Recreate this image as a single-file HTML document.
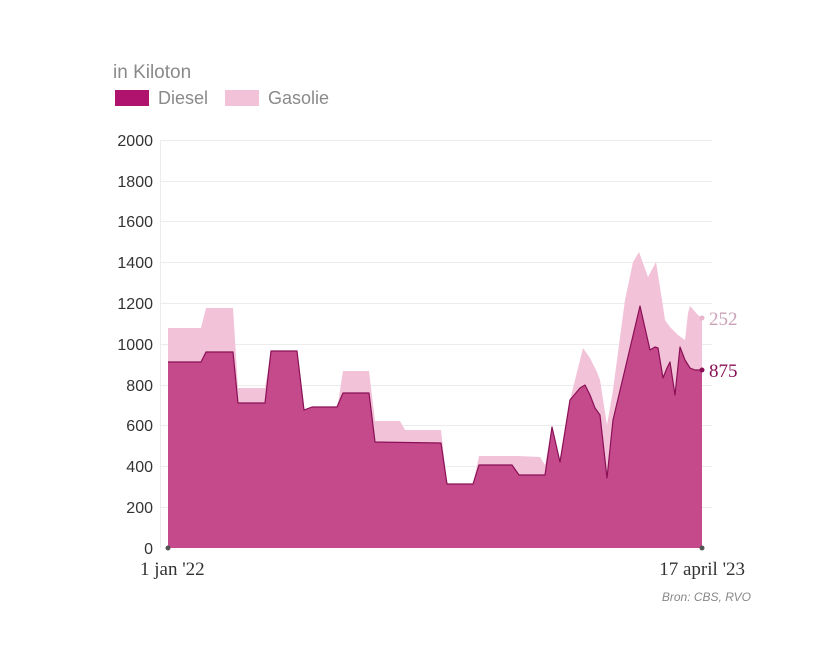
<!DOCTYPE html>
<html><head><meta charset="utf-8"><style>
body{margin:0;background:#fff;font-family:"Liberation Sans",sans-serif}
</style></head><body>
<svg width="830" height="666" xmlns="http://www.w3.org/2000/svg" font-family="Liberation Sans, sans-serif">
<text x="113" y="78" font-size="19" fill="#8a8a8a">in Kiloton</text>
<rect x="115" y="90" width="34" height="16" fill="#b0136e"/>
<text x="158" y="104" font-size="18" fill="#8a8a8a">Diesel</text>
<rect x="225" y="90" width="34" height="16" fill="#f2c2d9"/>
<text x="268" y="104" font-size="18" fill="#8a8a8a">Gasolie</text>
<g stroke="#ececec" stroke-width="1">
<line x1="160" x2="712" y1="140.5" y2="140.5"/><line x1="160" x2="712" y1="181.5" y2="181.5"/>
<line x1="160" x2="712" y1="221.5" y2="221.5"/><line x1="160" x2="712" y1="262.5" y2="262.5"/>
<line x1="160" x2="712" y1="303.5" y2="303.5"/><line x1="160" x2="712" y1="344.5" y2="344.5"/>
<line x1="160" x2="712" y1="385.5" y2="385.5"/><line x1="160" x2="712" y1="425.5" y2="425.5"/>
<line x1="160" x2="712" y1="466.5" y2="466.5"/><line x1="160" x2="712" y1="507.5" y2="507.5"/>
<line x1="160.5" x2="160.5" y1="140" y2="548"/>
</g>
<g font-size="16" fill="#333" text-anchor="end">
<text x="153" y="146">2000</text><text x="153" y="187">1800</text><text x="153" y="227">1600</text>
<text x="153" y="268">1400</text><text x="153" y="309">1200</text><text x="153" y="350">1000</text>
<text x="153" y="391">800</text><text x="153" y="431">600</text><text x="153" y="472">400</text>
<text x="153" y="513">200</text><text x="153" y="554">0</text>
</g>
<polygon fill="#f2c2d9" points="168,548 168,328 201,328 206,308 233,308 238,388 265,388 271,351 297,351 304,410 337,410 343,371 369,371 375,421 400,421 405,430 441,430 447,484 473,484 479,456 518,456 540,457 545,465 552,427 560,462 570,400 580,360 583,348 590,358 597,372 600,380 607,425 613,390 625,300 633,262 639,252 648,277 656,262 662,300 665,320 670,327 678,335 685,340 688,313 690,306 698,315 702,318 702,548"/>
<polygon fill="#c44a8c" points="168,548 168,362 201,362 206,352 233,352 238,403 265,403 271,351 297,351 304,410 312,407 337,407 343,393 369,393 375,442 441,443 447,484 473,484 479,465 512,465 519,475 545,475 552,427 560,462 570,400 580,388 585,385 590,395 595,408 600,415 607,478 613,420 640,306 650,350 655,347 658,348 663,378 667,368 670,362 675,395 680,347 685,360 690,368 695,370 702,370 702,548"/>
<polyline fill="none" stroke="#8a1055" stroke-width="1.2" stroke-linejoin="round" points="168,362 201,362 206,352 233,352 238,403 265,403 271,351 297,351 304,410 312,407 337,407 343,393 369,393 375,442 441,443 447,484 473,484 479,465 512,465 519,475 545,475 552,427 560,462 570,400 580,388 585,385 590,395 595,408 600,415 607,478 613,420 640,306 650,350 655,347 658,348 663,378 667,368 670,362 675,395 680,347 685,360 690,368 695,370 702,370"/>
<circle cx="168" cy="548" r="2.5" fill="#555"/><circle cx="702" cy="548" r="2.5" fill="#555"/>
<circle cx="702" cy="318" r="2.5" fill="#e9b5cd"/><circle cx="702" cy="370" r="2.5" fill="#8a1055"/>
<text x="709" y="325" font-size="19" fill="#c9a0b5" font-family="Liberation Serif, serif">252</text>
<text x="709" y="377" font-size="19" fill="#8a1055" font-family="Liberation Serif, serif">875</text>
<text x="140" y="575" font-size="19" fill="#333" font-family="Liberation Serif, serif">1 jan '22</text>
<text x="745" y="575" font-size="19" fill="#333" text-anchor="end" font-family="Liberation Serif, serif">17 april '23</text>
<text x="751" y="601" font-size="12" fill="#888" font-style="italic" text-anchor="end">Bron: CBS, RVO</text>
</svg>
</body></html>
